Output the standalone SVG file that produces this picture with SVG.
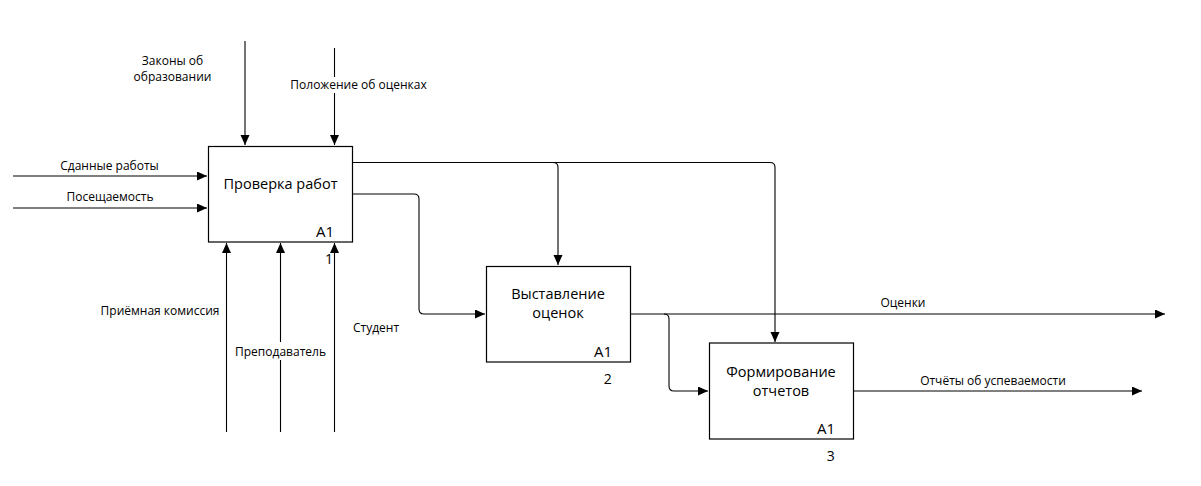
<svg xmlns="http://www.w3.org/2000/svg" width="1201" height="486" viewBox="0 0 1201 486">
<style>
.box{fill:#fff;stroke:#000;stroke-width:1.2}
.ln{fill:none;stroke:#000;stroke-width:1.1}
.t{font-family:"Open Sans","Noto Sans","DejaVu Sans",sans-serif;fill:#000}
.lb{font-size:12px}
.tt{font-size:14.5px;text-anchor:middle}
.a1{font-size:15px;text-anchor:end}
.num{font-size:14px;text-anchor:middle}
.mid{text-anchor:middle}
</style>
<defs>
<marker id="arr" markerUnits="userSpaceOnUse" markerWidth="11" markerHeight="10" refX="10" refY="4.5" orient="auto">
<path d="M0,0 L10,4.5 L0,9 z" fill="#000"/>
</marker>
</defs>
<rect width="1201" height="486" fill="#fff"/>
<g id="connectors">
<path class="ln" d="M13,176 H207" marker-end="url(#arr)"/>
<path class="ln" d="M13,208 H207" marker-end="url(#arr)"/>
<path class="ln" d="M245,41 V145" marker-end="url(#arr)"/>
<path class="ln" d="M334.5,48 V145" marker-end="url(#arr)"/>
<path class="ln" d="M226.5,432 V243" marker-end="url(#arr)"/>
<path class="ln" d="M280.5,432 V243" marker-end="url(#arr)"/>
<path class="ln" d="M334.5,432 V243" marker-end="url(#arr)"/>
<path class="ln" d="M352,162.5 H553 Q558,162.5 558,167.5 V265" marker-end="url(#arr)"/>
<path class="ln" d="M553,162.5 H770 Q775,162.5 775,167.5 V342" marker-end="url(#arr)"/>
<path class="ln" d="M352,194 H414 Q419,194 419,199 V309 Q419,314 424,314 H485" marker-end="url(#arr)"/>
<path class="ln" d="M630,314 H1165" marker-end="url(#arr)"/>
<path class="ln" d="M664,314 Q669,314 669,319 V386 Q669,391 674,391 H708" marker-end="url(#arr)"/>
<path class="ln" d="M853,391 H1142" marker-end="url(#arr)"/>
</g>
<g id="labels">
<text class="t lb mid" x="172.5" y="65">Законы об</text>
<text class="t lb mid" x="172.5" y="81">образовании</text>
<rect x="290" y="77" width="137" height="16" fill="#fff"/>
<text class="t lb mid" x="358.5" y="89">Положение об оценках</text>
<text class="t lb mid" x="109.5" y="169.5">Сданные работы</text>
<text class="t lb mid" x="110" y="201">Посещаемость</text>
<text class="t lb mid" x="160" y="315">Приёмная комиссия</text>
<rect x="236" y="342" width="89" height="18" fill="#fff"/>
<text class="t lb mid" x="280.5" y="355.5">Преподаватель</text>
<text class="t lb mid" x="376" y="331.5">Студент</text>
<text class="t lb mid" x="903" y="307">Оценки</text>
<text class="t lb mid" x="993" y="384.5">Отчёты об успеваемости</text>
</g>
<g id="node1">
<rect class="box" x="208.5" y="146.5" width="144" height="95.5"/>
<text class="t tt" x="280.5" y="189.3">Проверка работ</text>
<text class="t a1" x="334" y="237">A1</text>
<text class="t num" x="329" y="264">1</text>
</g>
<g id="node2">
<rect class="box" x="486.5" y="266.5" width="144" height="95.5"/>
<text class="t tt" x="558" y="299.4">Выставление</text>
<text class="t tt" x="558" y="317.5">оценок</text>
<text class="t a1" x="612" y="357.3">A1</text>
<text class="t num" x="607.7" y="384">2</text>
</g>
<g id="node3">
<rect class="box" x="709.5" y="343" width="144" height="96"/>
<text class="t tt" x="781" y="377">Формирование</text>
<text class="t tt" x="781" y="395.5">отчетов</text>
<text class="t a1" x="835" y="433.5">A1</text>
<text class="t num" x="830.7" y="461">3</text>
</g>
</svg>
